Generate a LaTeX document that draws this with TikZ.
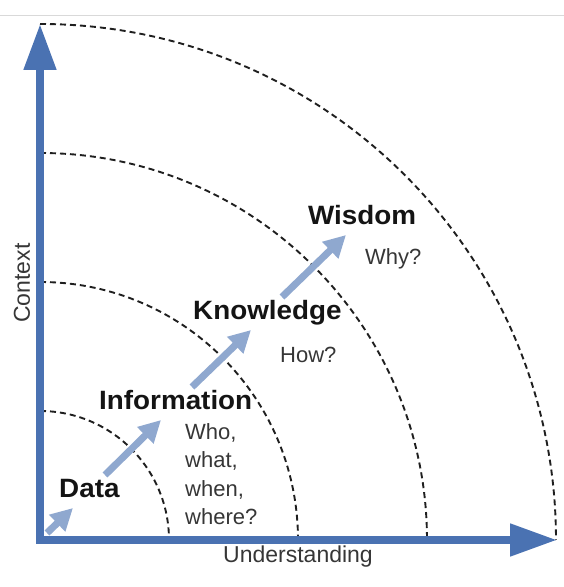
\documentclass[tikz,border=0pt]{standalone}
\usepackage{fontspec}
\setmainfont{Liberation Sans}[BoldFeatures={FakeStretch=1.05}]
\usetikzlibrary{arrows.meta}
\definecolor{axisblue}{HTML}{4A72B2}
\definecolor{steparrow}{HTML}{8FA8CF}
\definecolor{labelgray}{HTML}{363636}
\tikzset{
  axisline/.style={draw=axisblue, line width=8pt,
    {Triangle[length=46pt,width=31pt]}-{Triangle[length=47pt,width=31pt]}},
  ring/.style={draw=black!88, line width=1.9pt, dash pattern=on 6pt off 4pt},
  stepup/.style={draw=steparrow, line width=7pt, -{Triangle[length=22pt,width=22pt]}},
  level/.style={inner sep=0pt, font=\fontsize{26.5}{31}\selectfont\bfseries, text=black!92},
  question/.style={inner sep=0pt, font=\fontsize{22}{28.5}\selectfont, text=labelgray, align=left},
  axislabel/.style={inner sep=0pt, font=\fontsize{23}{28}\selectfont, text=labelgray}
}
\begin{document}
\begin{tikzpicture}[x=1pt,y=1pt]
\useasboundingbox (0,0) rectangle (564,587);
% thin rule along the top
\draw[black!15, line width=1pt] (0,571) -- (564,571);

% origin and axis ends
\coordinate (O) at (40,47);
\coordinate (ytip) at (40,563);
\coordinate (xtip) at (557,47);

% concentric dashed quarter rings
\foreach \r in {129,258,387,516}
  \draw[ring] (O) ++(0,\r) arc[start angle=90, end angle=0, radius=\r];

% axes
\draw[axisline] (ytip) -- (O) -- (xtip);

% stepping arrows between the levels
\coordinate (s1) at (47,54);   \coordinate (e1) at (73,79);
\coordinate (s2) at (105,112); \coordinate (e2) at (161,167);
\coordinate (s3) at (192,200); \coordinate (e3) at (251,257);
\coordinate (s4) at (282,290); \coordinate (e4) at (346,352);
\draw[stepup] (s1) -- (e1);
\draw[stepup] (s2) -- (e2);
\draw[stepup] (s3) -- (e3);
\draw[stepup] (s4) -- (e4);

% level names
\node[level, anchor=base west] (data) at (59,89) {Data};
\node[level, anchor=base west] (info) at (99,177) {Information};
\node[level, anchor=base west] (know) at (193,267) {Knowledge};
\node[level, anchor=base west] (wis) at (308,362) {Wisdom};

% questions
\node[question, anchor=north west] (q1) at (185,164) {Who,\\what,\\when,\\where?};
\node[question, anchor=base west] (q2) at (280,224) {How?};
\node[question, anchor=base west] (q3) at (365,322) {Why?};

% axis labels
\node[axislabel, anchor=base] (ux) at (298,24) {Understanding};
\node[axislabel, anchor=base, rotate=90] (cy) at (30,304) {Context};
\end{tikzpicture}
\end{document}
